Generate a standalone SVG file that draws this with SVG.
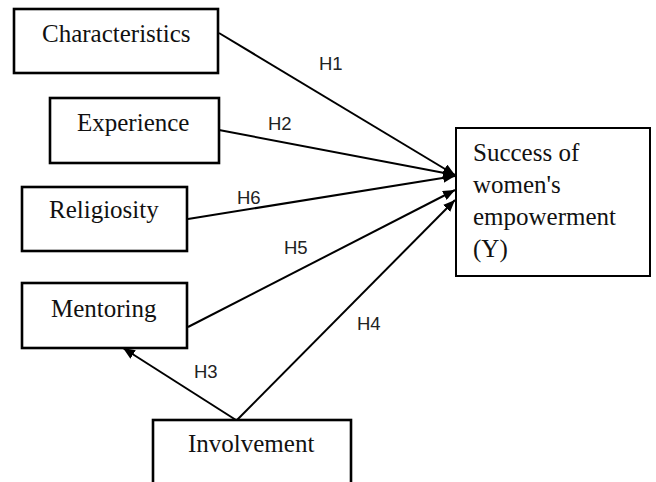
<svg xmlns="http://www.w3.org/2000/svg" width="656" height="482" viewBox="0 0 656 482">
<style>
.box{fill:#fff;stroke:#000;stroke-width:2.6}
.ybox{fill:#fff;stroke:#000;stroke-width:2}
.t{font-family:"Liberation Serif","Times New Roman",serif;font-size:25px;fill:#111}
.lbl{font-family:"Liberation Sans",Arial,sans-serif;font-size:18.5px;fill:#222}
.c{stroke:#000;stroke-width:2;fill:none;marker-end:url(#ah)}
</style>
<defs>
<marker id="ah" viewBox="0 0 12 10" refX="12" refY="5" markerWidth="12" markerHeight="10" markerUnits="userSpaceOnUse" orient="auto">
<path d="M0,0 L12,5 L0,10 Z" fill="#000"/>
</marker>
</defs>
<rect width="656" height="482" fill="#fff"/>
<g id="connectors">
<line class="c" x1="219" y1="33" x2="455" y2="175"/>
<line class="c" x1="219" y1="130" x2="455" y2="175"/>
<line class="c" x1="188" y1="219" x2="455" y2="176"/>
<line class="c" x1="188" y1="327" x2="455" y2="190"/>
<line class="c" x1="237" y1="420" x2="455" y2="200"/>
<line class="c" x1="236" y1="420" x2="123" y2="348"/>
<text class="lbl" x="319" y="70">H1</text>
<text class="lbl" x="268" y="130">H2</text>
<text class="lbl" x="237" y="204">H6</text>
<text class="lbl" x="284" y="254">H5</text>
<text class="lbl" x="194" y="378">H3</text>
<text class="lbl" x="357" y="330">H4</text>
</g>
<g id="characteristics">
<rect class="box" x="14" y="9" width="204" height="64"/>
<text class="t" x="42" y="42">Characteristics</text>
</g>
<g id="experience">
<rect class="box" x="50" y="98" width="169" height="65"/>
<text class="t" x="77" y="131">Experience</text>
</g>
<g id="religiosity">
<rect class="box" x="22" y="187" width="165" height="64"/>
<text class="t" x="49" y="218">Religiosity</text>
</g>
<g id="mentoring">
<rect class="box" x="22" y="283" width="165" height="65"/>
<text class="t" x="51" y="317">Mentoring</text>
</g>
<g id="involvement">
<rect class="box" x="153" y="420" width="198" height="80"/>
<text class="t" x="188" y="452">Involvement</text>
</g>
<g id="success">
<rect class="ybox" x="456" y="128" width="194" height="148"/>
<text class="t" x="473" y="161">Success of</text>
<text class="t" x="473" y="193">women's</text>
<text class="t" x="473" y="225">empowerment</text>
<text class="t" x="473" y="257">(Y)</text>
</g>
</svg>
